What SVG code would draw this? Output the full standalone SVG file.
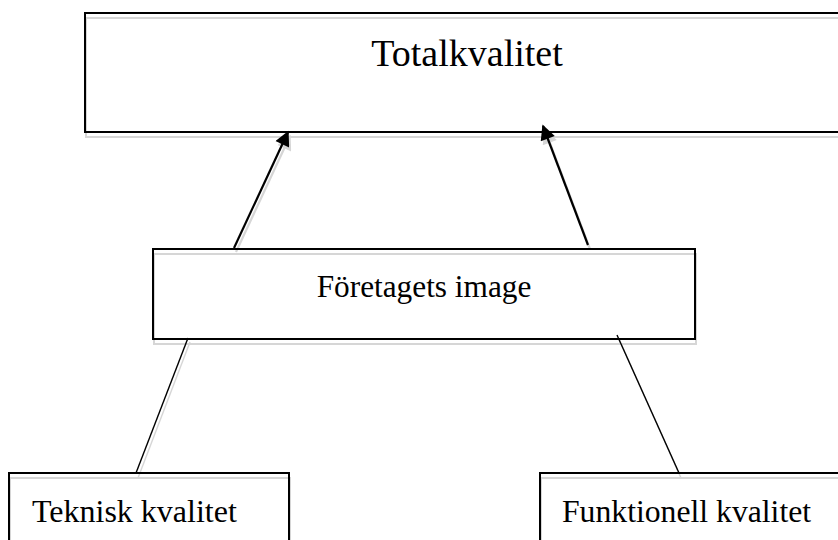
<svg xmlns="http://www.w3.org/2000/svg" width="838" height="540" viewBox="0 0 838 540">
<style>
.box{fill:none;stroke:#000;stroke-width:2}
.sh{fill:none;stroke:#d6d6d6;stroke-width:2}
.lbl{font-family:"Liberation Serif","Times New Roman",serif;fill:#000}
.arr{stroke:#000;stroke-width:2.2;fill:none}
.ln{stroke:#000;stroke-width:1.4;fill:none}
</style>
<defs>
<marker id="ah" viewBox="0 0 10 10" refX="9" refY="5" markerWidth="17" markerHeight="15" markerUnits="userSpaceOnUse" orient="auto">
<path d="M0,0 L10,5 L0,10 z" fill="#000"/>
</marker>
<marker id="ahs" viewBox="0 0 10 10" refX="9" refY="5" markerWidth="17" markerHeight="15" markerUnits="userSpaceOnUse" orient="auto">
<path d="M0,0 L10,5 L0,10 z" fill="#d6d6d6"/>
</marker>
</defs>
<rect width="838" height="540" fill="#fff"/>
<g id="shadows">
<rect class="sh" x="86" y="18" width="770" height="119"/>
<rect class="sh" x="154" y="254" width="542" height="90"/>
<rect class="sh" x="10" y="478" width="280" height="80"/>
<rect class="sh" x="541" y="478" width="320" height="80"/>
<line x1="236" y1="252" x2="290" y2="136" stroke="#d6d6d6" stroke-width="2.2" marker-end="url(#ahs)"/>
<line x1="590" y1="249" x2="545" y2="130" stroke="#d6d6d6" stroke-width="2.2" marker-end="url(#ahs)"/>
<line x1="190" y1="342" x2="138" y2="478" stroke="#d6d6d6" stroke-width="1.4"/>
<line x1="619" y1="339" x2="681" y2="478" stroke="#d6d6d6" stroke-width="1.4"/>
</g>
<g id="connectors">
<line class="arr" x1="234" y1="248" x2="288" y2="132" marker-end="url(#ah)"/>
<line class="arr" x1="588" y1="245" x2="543" y2="126" marker-end="url(#ah)"/>
<line class="ln" x1="188" y1="338" x2="136" y2="473"/>
<line class="ln" x1="617" y1="335" x2="679" y2="473"/>
</g>
<g id="totalkvalitet">
<rect class="box" x="85" y="13" width="770" height="119"/>
<text class="lbl" x="467" y="66" font-size="38" text-anchor="middle">Totalkvalitet</text>
</g>
<g id="foretagets-image">
<rect class="box" x="153" y="249" width="542" height="90"/>
<text class="lbl" x="424" y="297" font-size="31.3" text-anchor="middle">Företagets image</text>
</g>
<g id="teknisk">
<rect class="box" x="9" y="473" width="280" height="80"/>
<text class="lbl" x="32" y="522" font-size="32">Teknisk kvalitet</text>
</g>
<g id="funktionell">
<rect class="box" x="540" y="473" width="320" height="80"/>
<text class="lbl" x="562" y="522" font-size="31.7">Funktionell kvalitet</text>
</g>
</svg>
